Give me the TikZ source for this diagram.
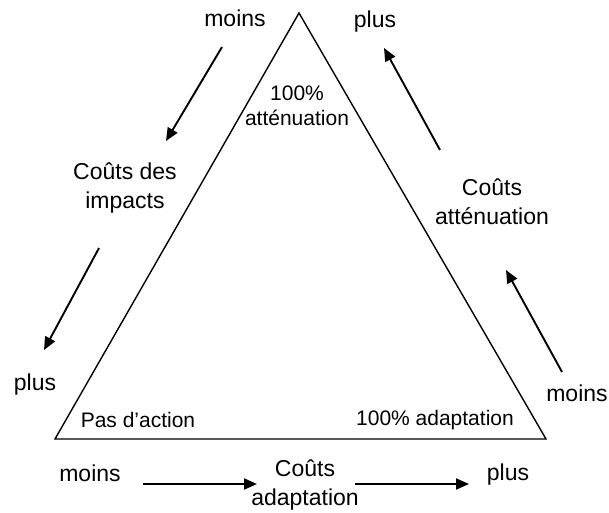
\documentclass[tikz,border=0pt]{standalone}
\usepackage{fontspec}
\setmainfont{Liberation Sans}
\usetikzlibrary{arrows.meta}
\begin{document}
\begin{tikzpicture}[
            x=1pt, y=-1pt,
            lbl/.style={font=\fontsize{23}{29}\selectfont, inner sep=0pt, align=center},
            corner/.style={font=\fontsize{21}{25}\selectfont, inner sep=0pt, align=center},
            side/.style={draw=black, line width=1.4pt},
            cost/.style={draw=black, line width=1.9pt, -{Triangle[length=13pt,width=11pt]}}
          ]
          \useasboundingbox (0,0) rectangle (609,512);
          % triangle
          \coordinate (apex) at (299,13);
          \coordinate (bl) at (55,439);
          \coordinate (br) at (546,439);
          \draw[side] (apex) -- (br) -- (bl) -- cycle;
          \node[corner] (mit) at (297,106) {100\%\\att\'enuation};
          \node[corner] (noact) at (138,420) {Pas d'action};
          \node[corner] (adapt) at (435,420) {100\% adaptation};
          % left side: impacts
          \node[lbl] (lmoins) at (235,18) {moins};
          \node[lbl] (impacts) at (125,188) {Co\^uts des\\impacts};
          \node[lbl] (lplus) at (35,385) {plus};
          \coordinate (l1a) at (222,47);
          \coordinate (l1b) at (166,141);
          \coordinate (l2a) at (99,248);
          \coordinate (l2b) at (44,350);
          \draw[cost] (l1a) -- (l1b);
          \draw[cost] (l2a) -- (l2b);
          % right side: attenuation
          \node[lbl] (rplus) at (375,22) {plus};
          \node[lbl] (attcost) at (492,202) {Co\^uts\\att\'enuation};
          \node[lbl] (rmoins) at (577,393) {moins};
          \coordinate (r1a) at (440,150);
          \coordinate (r1b) at (384,48);
          \coordinate (r2a) at (562,372);
          \coordinate (r2b) at (506,270);
          \draw[cost] (r1a) -- (r1b);
          \draw[cost] (r2a) -- (r2b);
          % bottom: adaptation
          \node[lbl] (bmoins) at (90,473) {moins};
          \node[lbl] (adcost) at (305,485) {Co\^uts\\adaptation};
          \node[lbl] (bplus) at (508,475) {plus};
          \coordinate (b1a) at (143,484);
          \coordinate (b1b) at (257,484);
          \coordinate (b2a) at (355,484);
          \coordinate (b2b) at (469,484);
          \draw[cost] (b1a) -- (b1b);
          \draw[cost] (b2a) -- (b2b);
        \end{tikzpicture}
\end{document}
